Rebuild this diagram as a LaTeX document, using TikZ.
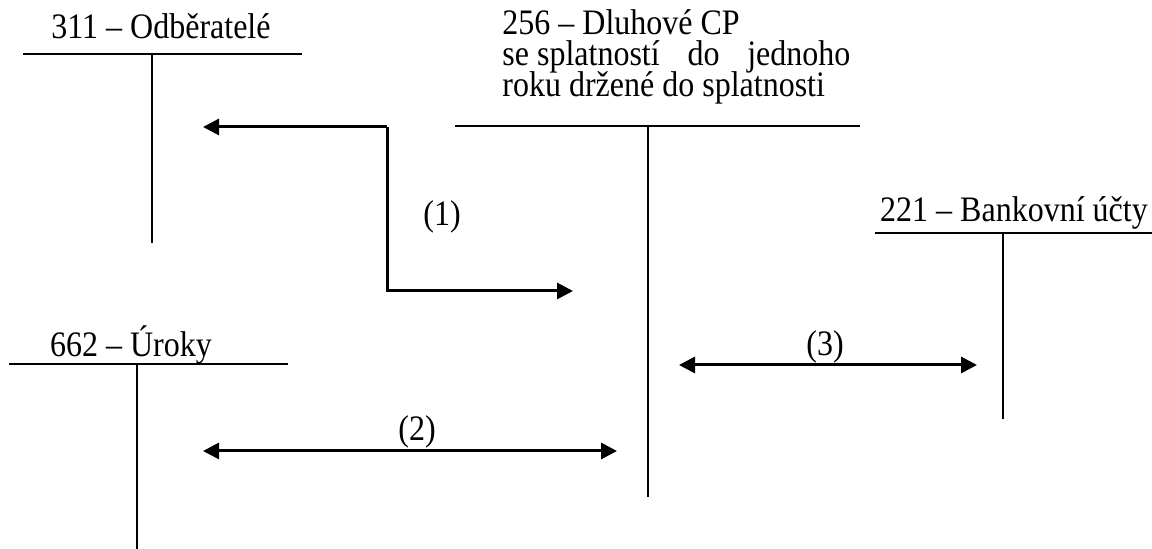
\documentclass[tikz,border=0pt]{standalone}
\usepackage{fontspec}
\setmainfont{Liberation Serif}
\usetikzlibrary{arrows.meta}
% slightly tall lettering for the account captions
\newcommand{\tallcap}[1]{\scalebox{1}[1.12]{#1}}
\begin{document}
\begin{tikzpicture}[x=0.5pt,y=-0.5pt,
  tline/.style={line width=1pt},
  flow/.style={line width=1.5pt,-{Triangle[length=8pt,width=8pt]}},
  both/.style={line width=1.5pt,{Triangle[length=8pt,width=8pt]}-{Triangle[length=8pt,width=8pt]}},
  title/.style={anchor=base,inner sep=0pt,font=\fontsize{16}{15}\selectfont},
  lbl/.style={inner sep=0pt,font=\fontsize{16}{15}\selectfont}]
\useasboundingbox (0,0) rectangle (1152,549);

% account 311
\node[title] (t311) at (161,39) {\tallcap{311 – Odběratelé}};
\draw[tline] (23,54) -- (302,54);
\draw[tline] (152,54) -- (152,243);

% account 256 (three caption lines, the middle one spread out)
\node[title,anchor=base west] (t256) at (502,35) {\tallcap{\parbox[t]{174pt}{%
  \baselineskip=13.84pt\lineskiplimit=-100pt\lineskip=0pt
  256 – Dluhové CP\\
  \makebox[174pt][l]{se splatností\hfill do\hfill jednoho}\\
  roku držené do splatnosti}}};
\draw[tline] (455,126) -- (860,126);
\draw[tline] (648,126) -- (648,497);

% account 221
\node[title] (t221) at (1014,222) {\tallcap{221 – Bankovní účty}};
\draw[tline] (875,233) -- (1152,233);
\draw[tline] (1003,233) -- (1003,419);

% account 662
\node[title] (t662) at (131,357) {\tallcap{662 – Úroky}};
\draw[tline] (9,364) -- (288,364);
\draw[tline] (137,364) -- (137,549);

% transaction arrows
\coordinate (a1c) at (387,127);
\coordinate (a1s) at (203,127);
\coordinate (a1e) at (573,291);
\draw[flow] (a1c) -- (a1s);
\draw[flow] (a1c) |- (a1e);
\node[lbl] (l1) at (442,217) {\tallcap{(1)}};

\coordinate (a2l) at (203,451);
\coordinate (a2r) at (617,451);
\draw[both] (a2l) -- (a2r);
\node[lbl] (l2) at (417,432) {\tallcap{(2)}};

\coordinate (a3l) at (679,365);
\coordinate (a3r) at (977,365);
\draw[both] (a3l) -- (a3r);
\node[lbl] (l3) at (825,347) {\tallcap{(3)}};
\end{tikzpicture}
\end{document}
